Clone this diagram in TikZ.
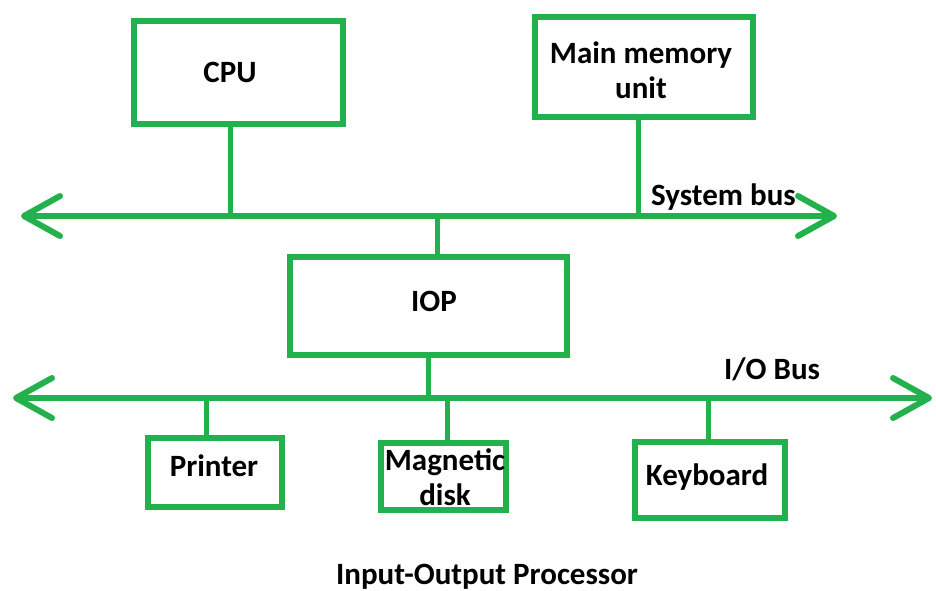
\documentclass[tikz,border=0pt]{standalone}
\usepackage{fontspec}
\setmainfont{Carlito}
\usetikzlibrary{arrows.meta}
\definecolor{pgreen}{RGB}{34,177,76}
\begin{document}
\begin{tikzpicture}[x=1pt,y=-1pt,
  box/.style={draw=pgreen,line width=5.5pt,inner sep=0pt,outer sep=0pt},
  lbl/.style={font=\fontsize{31}{35}\selectfont\bfseries,align=center,inner sep=0pt},
  wire/.style={draw=pgreen,line width=5pt},
  bus/.style={draw=pgreen,line width=6pt,line cap=round,
    {Straight Barb[length=36pt,width=40pt,round]}-{Straight Barb[length=36pt,width=40pt,round]}}]
\useasboundingbox (0,0) rectangle (936,590);
% boxes
\node[box,minimum width=209pt,minimum height=103pt] (cpu) at (238.5,72.5) {};
\node[box,minimum width=218pt,minimum height=100pt] (mem) at (644,67) {};
\node[box,minimum width=277pt,minimum height=98pt] (iop) at (428.5,306) {};
\node[box,minimum width=134pt,minimum height=69pt] (prn) at (215,472.5) {};
\node[box,minimum width=125pt,minimum height=67pt] (dsk) at (443.5,476.5) {};
\node[box,minimum width=150pt,minimum height=76pt] (kbd) at (710,480) {};
% labels
\node[lbl] (tcpu) at (230,72) {CPU};
\node[lbl] (tmem) at (641,70) {Main memory\\unit};
\node[lbl] (tiop) at (434,301) {IOP};
\node[lbl] (tprn) at (214,466) {Printer};
\node[lbl] (tdsk) at (445,477) {Magnetic\\disk};
\node[lbl] (tkbd) at (707,477) {Keyboard};
\node[lbl,anchor=west] (tsys) at (651,197) {System bus};
\node[lbl] (tio) at (772,369) {I/O Bus};
\node[lbl,anchor=base] (ttitle) at (487,584) {Input-Output Processor};
% buses
\coordinate (sbL) at (21,216);
\coordinate (sbR) at (837,216);
\coordinate (ioL) at (13,398);
\coordinate (ioR) at (932,398);
\draw[bus] (sbL) -- (sbR);
\draw[bus] (ioL) -- (ioR);
% taps
\coordinate (cputap) at (230,216);
\coordinate (memtap) at (638,216);
\coordinate (iouptap) at (437,216);
\coordinate (iodntap) at (428,398);
\coordinate (prntap) at (206,398);
\coordinate (dsktap) at (447,398);
\coordinate (kbdtap) at (708,398);
\draw[wire] (cputap |- cpu.south) -- (cputap);
\draw[wire] (memtap |- mem.south) -- (memtap);
\draw[wire] (iouptap) -- (iouptap |- iop.north);
\draw[wire] (iodntap |- iop.south) -- (iodntap);
\draw[wire] (prntap) -- (prntap |- prn.north);
\draw[wire] (dsktap) -- (dsktap |- dsk.north);
\draw[wire] (kbdtap) -- (kbdtap |- kbd.north);
\end{tikzpicture}
\end{document}
